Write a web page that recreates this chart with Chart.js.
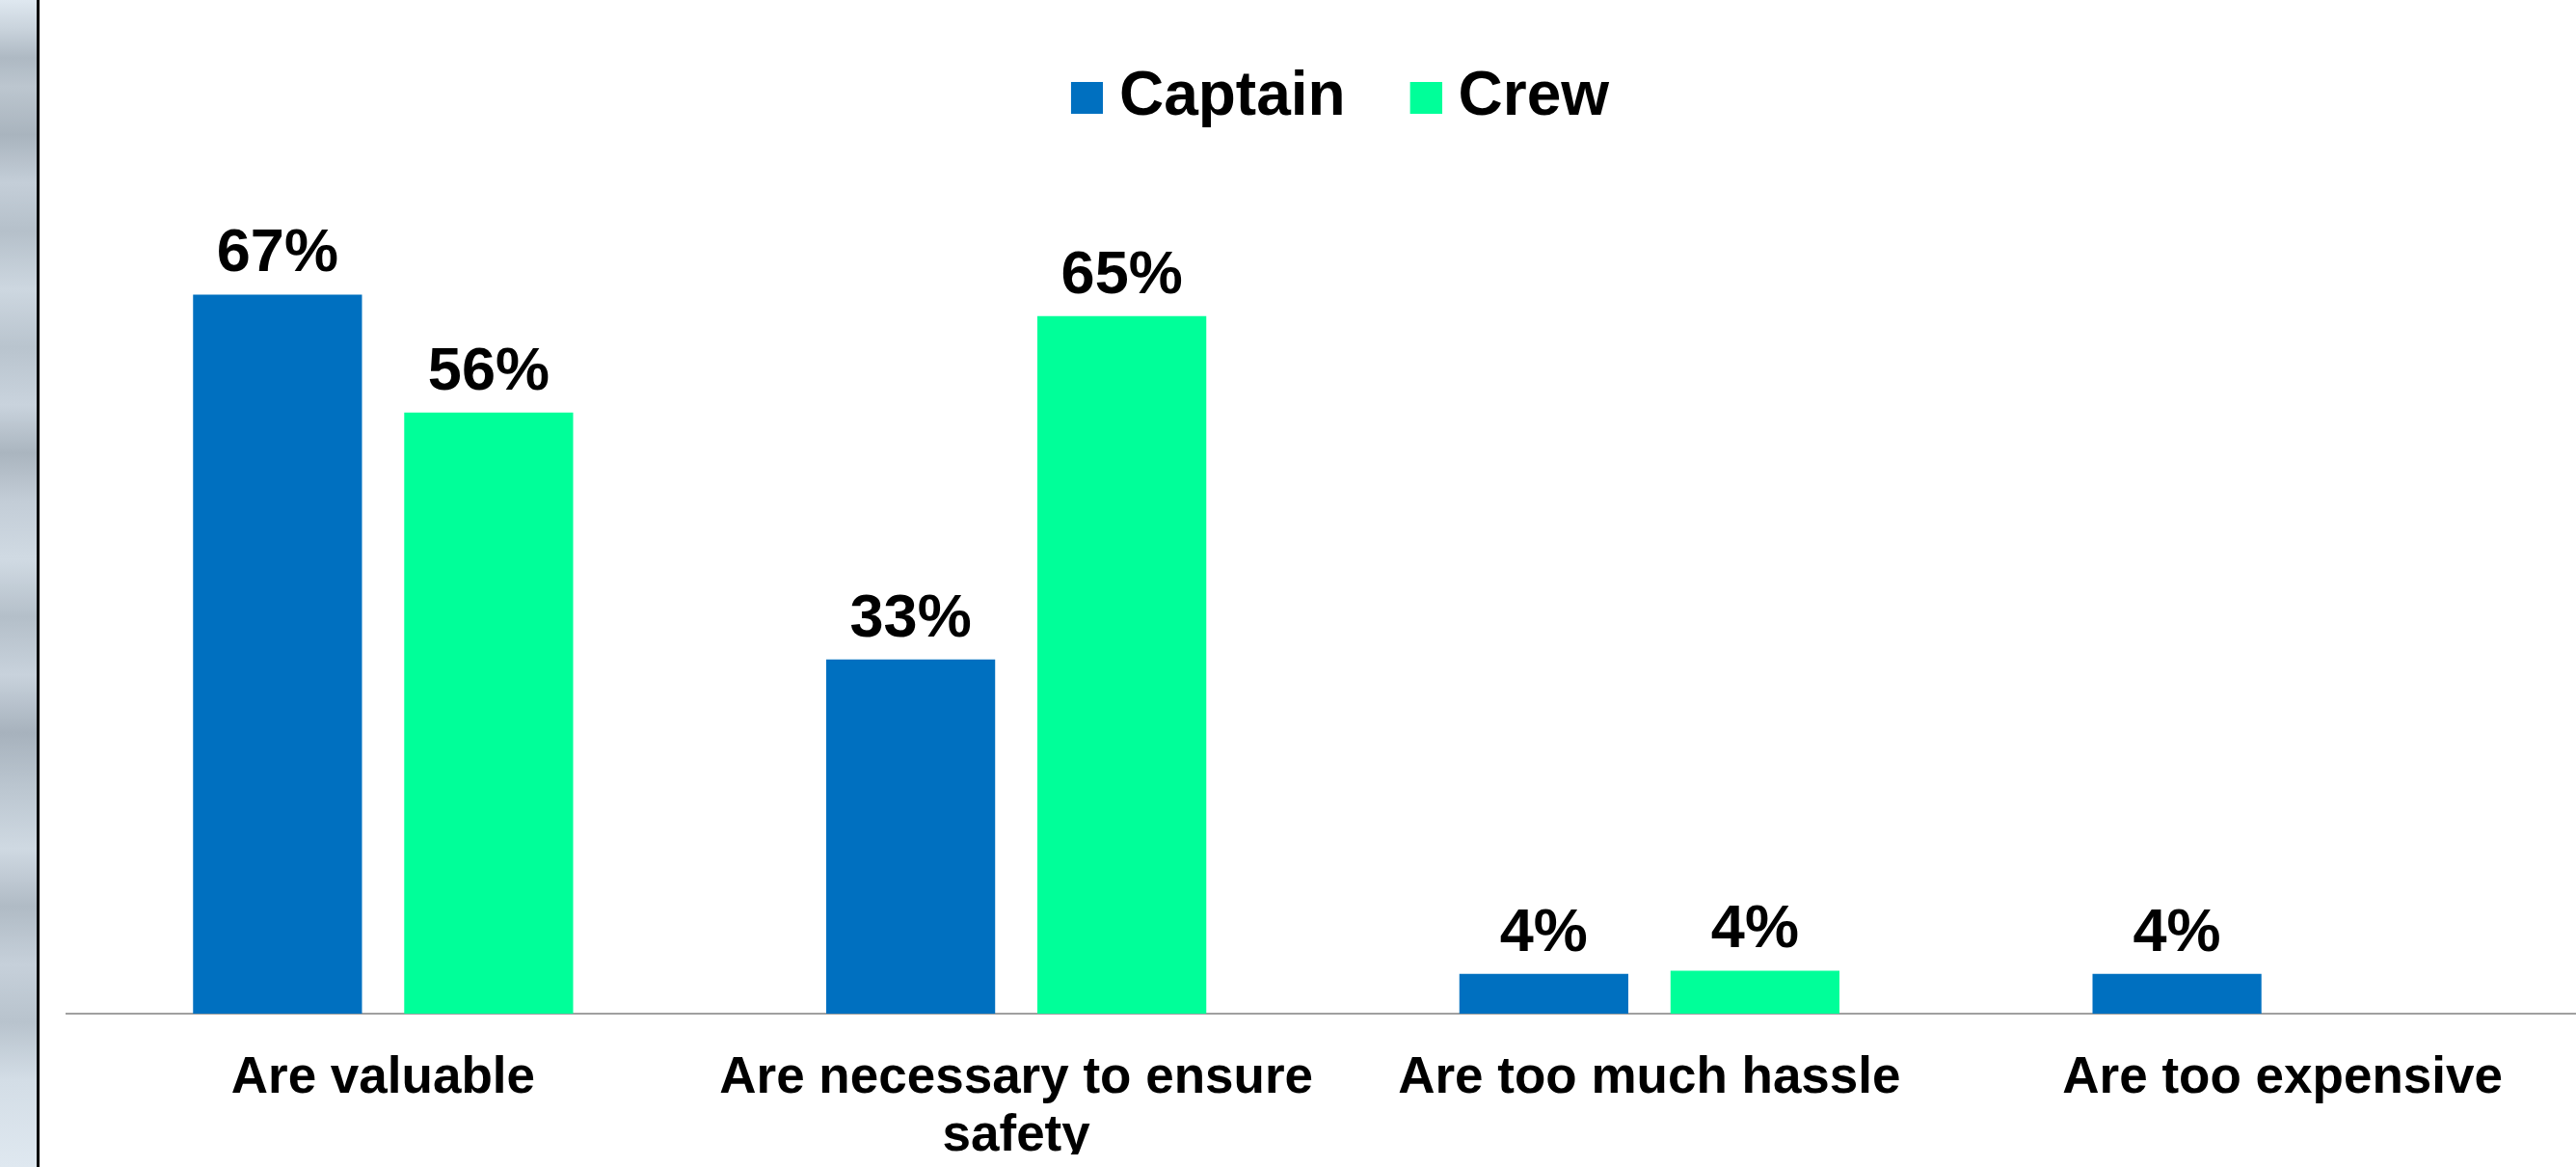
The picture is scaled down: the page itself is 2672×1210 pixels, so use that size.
<!DOCTYPE html>
<html>
<head>
<meta charset="utf-8">
<script src="https://cdn.jsdelivr.net/npm/chart.js@4.4.1/dist/chart.umd.min.js"></script>
<style>
  html, body { margin: 0; padding: 0; background: #fff; overflow: hidden; }
  body { width: 2672px; height: 1210px; position: relative; }
  #strip {
    position: absolute; left: 0; top: 0; width: 38px; height: 1210px; z-index: 2;
    background:
      linear-gradient(180deg,
        #dfe8f0 0px, #c9d3dc 30px, #aeb9c3 60px, #bcc6cf 90px, #a9b4be 140px,
        #c4ced8 190px, #b5c0ca 240px, #cdd7e0 300px, #b9c4ce 360px, #c9d3dd 420px,
        #aab5bf 470px, #c3cdd7 520px, #d0dae3 580px, #b4bfc9 640px, #c8d2dc 700px,
        #a7b2bd 760px, #bcc7d1 820px, #cfd9e2 880px, #b0bbc5 940px, #c6d0da 1000px,
        #b8c3cd 1060px, #d3dde6 1120px, #dfe8f0 1210px);
  }
  #rule { position: absolute; left: 38px; top: 0; width: 3px; height: 1210px; background: #000; z-index: 2; }
  #wrap { position: absolute; left: 0; top: 0; width: 2700px; height: 1210px; }
</style>
</head>
<body>
<div id="strip"></div>
<div id="rule"></div>
<div id="wrap"><canvas id="chart" width="2700" height="1210"></canvas></div>
<script>
const categories = [
  'Are valuable',
  ['Are necessary to ensure', 'safety'],
  'Are too much hassle',
  'Are too expensive'
];
const captainValues = [67, 33, 3.7, 3.7];
const crewValues = [56, 65, 4.0, null];

const FONT = '"Liberation Sans", Arial, Helvetica, sans-serif';

// legend marker: square sitting at the right of a transparent strip,
// so it ends up closer to the label text
function legendSquare(color) {
  const c = document.createElement('canvas');
  c.width = 63;
  c.height = 33;
  const g = c.getContext('2d');
  g.fillStyle = color;
  g.fillRect(30, 0, 33, 33);
  return c;
}

// percentage labels above the bars
const valueLabels = {
  id: 'valueLabels',
  afterDatasetsDraw(chart) {
    const ctx = chart.ctx;
    ctx.save();
    ctx.font = 'bold 63px ' + FONT;
    ctx.fillStyle = '#000';
    ctx.textAlign = 'center';
    ctx.textBaseline = 'alphabetic';
    chart.data.datasets.forEach((ds, i) => {
      chart.getDatasetMeta(i).data.forEach((bar, j) => {
        const v = ds.data[j];
        if (v == null) return;
        ctx.fillText(Math.round(v) + '%', bar.x, bar.y - 24);
      });
    });
    ctx.restore();
  }
};

new Chart(document.getElementById('chart'), {
  type: 'bar',
  data: {
    labels: categories,
    datasets: [
      { label: 'Captain', data: captainValues, backgroundColor: '#0070C0', pointStyle: legendSquare('#0070C0') },
      { label: 'Crew', data: crewValues, backgroundColor: '#00FF99', pointStyle: legendSquare('#00FF99') }
    ]
  },
  options: {
    responsive: false,
    animation: false,
    devicePixelRatio: 1,
    layout: { padding: { top: 17, left: 69, right: 4, bottom: 13 } },
    datasets: { bar: { categoryPercentage: 0.667, barPercentage: 0.8 } },
    plugins: {
      legend: {
        position: 'top',
        labels: {
          usePointStyle: true,
          boxWidth: 33,
          boxHeight: 33,
          padding: 52,
          color: '#000',
          font: { family: FONT, size: 64, weight: 'bold' }
        }
      },
      tooltip: { enabled: false }
    },
    scales: {
      x: {
        grid: { display: false },
        border: { color: '#a0a0a0', width: 2 },
        afterFit(scale) { scale.height = 146; },
        ticks: {
          color: '#000',
          padding: 29,
          maxRotation: 0,
          autoSkip: false,
          font: { family: FONT, size: 53, weight: 'bold', lineHeight: 1.132 }
        }
      },
      y: {
        display: false,
        min: 0,
        max: 81.6
      }
    }
  },
  plugins: [valueLabels]
});
</script>
</body>
</html>
